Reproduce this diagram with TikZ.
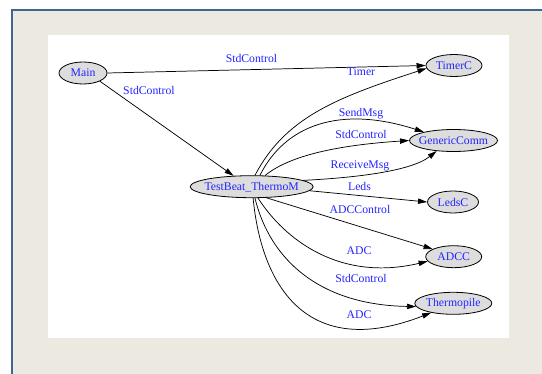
\documentclass[tikz,border=0pt]{standalone}
\usepackage{fontspec}
\setmainfont{Liberation Serif}
\usetikzlibrary{arrows.meta,shapes.geometric}

\definecolor{pagebeige}{RGB}{236,234,224}
\definecolor{frameblue}{RGB}{63,100,150}
\definecolor{nodegray}{RGB}{221,221,221}
\definecolor{labelblue}{RGB}{36,36,255}

\tikzset{
  labeltext/.style={text=labelblue, font=\fontsize{8.8}{10}\selectfont, inner sep=0pt},
  comp/.style={ellipse, draw, line width=0.6pt, fill=nodegray, inner sep=0pt,
               minimum height=16.5pt, label={[labeltext]center:#1}},
  link/.style={draw, line width=0.55pt, -{Triangle[length=6.8pt,width=4pt]}},
}

\begin{document}
\begin{tikzpicture}[x=0.75pt,y=-0.75pt]
  \useasboundingbox (0,0) rectangle (542,374);
  % window frame and panel
  \fill[white] (0,0) rectangle (542,374);
  \fill[pagebeige] (11,9) rectangle (542,374);
  \fill[frameblue] (11,9) rectangle (542,11.5);
  \fill[frameblue] (11,9) rectangle (12.7,374);
  \fill[white] (48,35) rectangle (509,338);

  % components
  \node[comp=Main, minimum width=36pt] (M) at (83,73) {};
  \node[comp=TimerC, minimum width=42pt] (TC) at (454,65.5) {};
  \node[comp=GenericComm, minimum width=66pt] (GC) at (453.5,140.5) {};
  \node[comp=LedsC, minimum width=38.25pt] (LC) at (453,202) {};
  \node[comp=ADCC, minimum width=42pt] (AC) at (453.7,256.7) {};
  \node[comp=Thermopile, minimum width=57.75pt] (TH) at (453.3,303.3) {};
  \node[comp=TestBeat\_ThermoM, minimum width=92.25pt] (TB) at (251.7,186.7) {};

  % wiring
  \draw[link] (M.east) -- (TC.west);
  \draw[link] (M.-26) -- (TB.149);
  \draw[link] (TB.74) .. controls (285,118) and (335,98) .. (TC.186);
  \draw[link] (TB.54) .. controls (285,125) and (340,105) .. (GC.164);
  \draw[link] (TB.40) .. controls (290,155) and (340,145) .. (GC.180);
  \draw[link] (TB.7) .. controls (350,178) and (410,172) .. (GC.212);
  \draw[link] (TB.-4) -- (LC.west);
  \draw[link] (TB.-37) -- (AC.160);
  \draw[link] (TB.-61) .. controls (285,240) and (340,282) .. (AC.190);
  \draw[link] (TB.-74) .. controls (270,260) and (320,305) .. (TH.185);
  \draw[link] (TB.-83) .. controls (262,290) and (310,360) .. (TH.203);

  % interface labels
  \node[labeltext] (l1) at (251.5,58.3) {StdControl};
  \node[labeltext] (l2) at (149,90.7) {StdControl};
  \node[labeltext] (l3) at (361,71.3) {Timer};
  \node[labeltext] (l4) at (361,114) {SendMsg};
  \node[labeltext] (l5) at (361,134.7) {StdControl};
  \node[labeltext] (l6) at (360,166) {ReceiveMsg};
  \node[labeltext] (l7) at (359.5,186.7) {Leds};
  \node[labeltext] (l8) at (360,209) {ADCControl};
  \node[labeltext] (l9) at (359,250.7) {ADC};
  \node[labeltext] (l10) at (361,278.3) {StdControl};
  \node[labeltext] (l11) at (359,315) {ADC};
\end{tikzpicture}
\end{document}
